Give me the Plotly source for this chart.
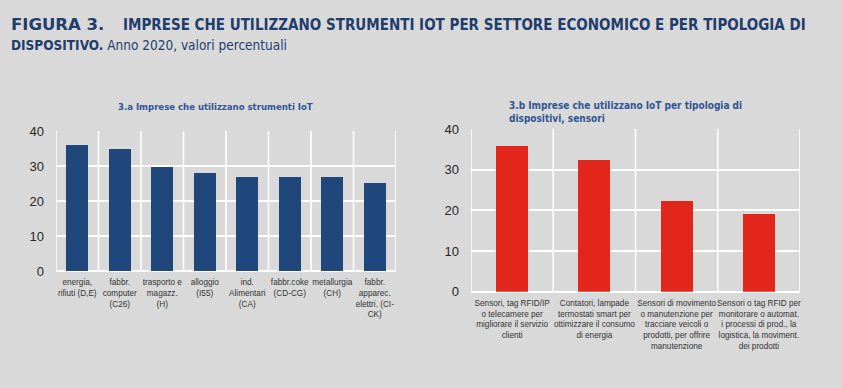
import plotly.graph_objects as go

# ---- data ----
settori = [
    "energia,<br>rifiuti (D,E)",
    "fabbr.<br>computer<br>(C26)",
    "trasporto e<br>magazz.<br>(H)",
    "alloggio<br>(I55)",
    "ind.<br>Alimentari<br>(CA)",
    "fabbr.coke<br>(CD-CG)",
    "metallurgia<br>(CH)",
    "fabbr.<br>apparec.<br>elettri. (CI-<br>CK)",
]
valori_settori = [36.0, 35.0, 29.7, 27.9, 27.0, 27.0, 26.8, 25.2]

dispositivi = [
    "Sensori, tag RFID/IP<br>o telecamere per<br>migliorare il servizio<br>clienti",
    "Contatori, lampade<br>termostati smart per<br>ottimizzare il consumo<br>di energia",
    "Sensori di movimento<br>o manutenzione per<br>tracciare veicoli o<br>prodotti, per offrire<br>manutenzione",
    "Sensori o tag RFID per<br>monitorare o automat.<br>i processi di prod., la<br>logistica, la moviment.<br>dei prodotti",
]
valori_dispositivi = [35.8, 32.5, 22.3, 19.0]

y_ticks = [0, 10, 20, 30, 40]

# ---- style ----
W, H = 842, 388
BG = "#d9d9d9"
BLUE = "#1f477b"
RED = "#e2261b"
TITLE_BLUE = "#1f3d6d"
SUB_BLUE = "#2f5592"
TICK = "#262626"
LAB = "#333333"


def px_x(a, b):
    return [a / W, b / W]


def px_y(top, bottom):
    return [(H - bottom) / H, (H - top) / H]


fig = go.Figure()

fig.add_trace(go.Bar(x=settori, y=valori_settori, marker_color=BLUE,
                     marker_line_width=0, width=0.51, xaxis="x", yaxis="y",
                     hoverinfo="x+y", showlegend=False))
fig.add_trace(go.Bar(x=dispositivi, y=valori_dispositivi, marker_color=RED,
                     marker_line_width=0, width=0.39, xaxis="x2", yaxis="y2",
                     hoverinfo="x+y", showlegend=False))

axis_common_y = dict(range=[0, 40], tickvals=y_ticks, showgrid=True,
                     gridcolor="white", gridwidth=1.6, zeroline=True,
                     zerolinecolor="white", zerolinewidth=1.6,
                     showline=False, ticks="", ticklabelstandoff=11,
                     automargin=False,
                     tickfont=dict(family="Liberation Sans, Arial", size=13, color=TICK),
                     fixedrange=True)
axis_common_x = dict(type="category", showgrid=False, showline=False, ticks="",
                     tickangle=0, ticklabelstandoff=5, automargin=False,
                     tickfont=dict(family="Liberation Sans, Arial", size=8.2, color=LAB),
                     fixedrange=True)

fig.update_layout(
    width=W, height=H,
    margin=dict(l=0, r=0, t=0, b=0, autoexpand=False),
    paper_bgcolor=BG, plot_bgcolor=BG,
    bargap=0,
    xaxis=dict(domain=px_x(56, 396), range=[-0.5, len(settori) - 0.5], anchor="y", **axis_common_x),
    yaxis=dict(domain=px_y(131, 271), anchor="x", **axis_common_y),
    xaxis2=dict(domain=px_x(471, 800), range=[-0.5, len(dispositivi) - 0.5], anchor="y2", **axis_common_x),
    yaxis2=dict(domain=px_y(129, 291.7), anchor="x2", **axis_common_y),
)

shapes = []
for i in range(len(settori) + 1):
    shapes.append(dict(type="line", xref="x", yref="y", x0=i - 0.5, x1=i - 0.5,
                       y0=0, y1=40, line=dict(color="white", width=1.6), layer="below"))
for i in range(len(dispositivi) + 1):
    shapes.append(dict(type="line", xref="x2", yref="y2", x0=i - 0.5, x1=i - 0.5,
                       y0=0, y1=40, line=dict(color="white", width=1.6), layer="below"))
fig.update_layout(shapes=shapes)

narrow = "Liberation Sans Narrow, DejaVu Sans Condensed, Arial Narrow, sans-serif"
annotations = [
    dict(text="<b>FIGURA 3.</b>", x=9 / W, y=(H - 25) / H, xref="paper", yref="paper",
         xanchor="left", yanchor="middle", showarrow=False,
         font=dict(family="DejaVu Sans, Arial Black", size=16.5, color=TITLE_BLUE)),
    dict(text="<b>IMPRESE CHE UTILIZZANO STRUMENTI IOT PER SETTORE ECONOMICO E PER TIPOLOGIA DI</b>",
         x=121 / W, y=(H - 25) / H, xref="paper", yref="paper",
         xanchor="left", yanchor="middle", showarrow=False,
         font=dict(family=narrow, size=15, color=TITLE_BLUE)),
    dict(text="<b>DISPOSITIVO.</b> Anno 2020, valori percentuali",
         x=9 / W, y=(H - 45) / H, xref="paper", yref="paper",
         xanchor="left", yanchor="middle", showarrow=False,
         font=dict(family=narrow, size=13.5, color=TITLE_BLUE)),
    dict(text="<b>3.a Imprese che utilizzano strumenti IoT</b>",
         x=215 / W, y=(H - 106) / H, xref="paper", yref="paper",
         xanchor="center", yanchor="middle", showarrow=False,
         font=dict(family=narrow, size=9.5, color=SUB_BLUE)),
    dict(text="<b>3.b Imprese che utilizzano IoT per tipologia di<br>dispositivi, sensori</b>",
         x=507 / W, y=(H - 112) / H, xref="paper", yref="paper",
         xanchor="left", yanchor="middle", align="left", showarrow=False,
         font=dict(family=narrow, size=10, color=SUB_BLUE)),
]
fig.update_layout(annotations=annotations)

fig.write_html(
    "out.html",
    config={"displayModeBar": False},
    post_script="document.body.style.margin='0';document.body.style.background='" + BG + "';",
)
